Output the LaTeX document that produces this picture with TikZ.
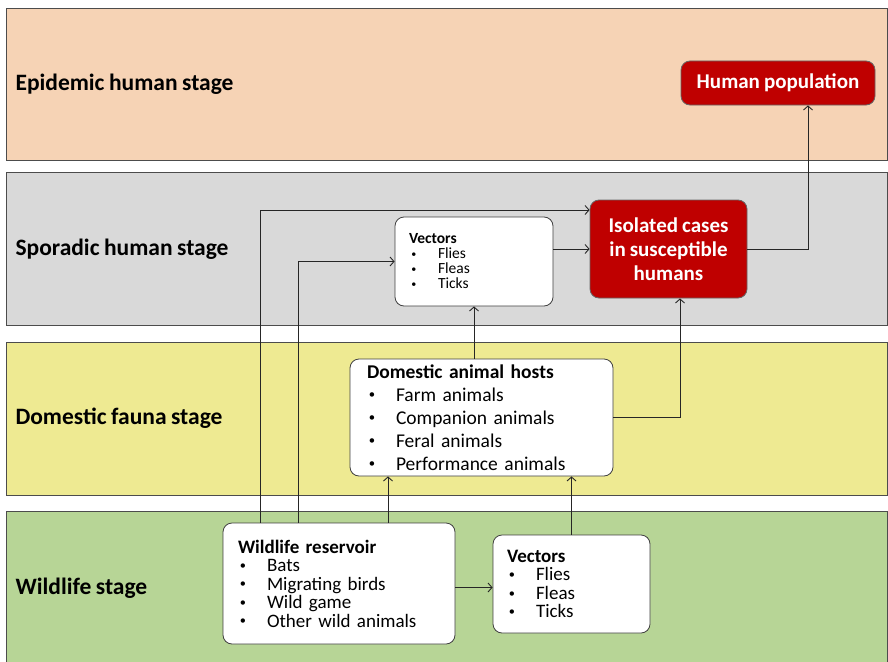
\documentclass[tikz,border=0pt]{standalone}
\usepackage{fontspec}
\setmainfont{Carlito}[WordSpace=0.85]
\usetikzlibrary{arrows.meta}

% puce de liste
\newcommand{\puce}{\makebox[10pt]{\raisebox{0.12em}{\scalebox{0.65}{\textbullet}}}\hspace{19pt}}

\begin{document}
\begin{tikzpicture}[x=1pt, y=-1pt,
    bande/.style={draw=black!70, line width=0.8pt},
    titre/.style={anchor=west, font=\fontsize{23.5}{26}\selectfont\bfseries},
    boite/.style={draw=black!75, fill=white, rounded corners=9pt, align=left, line width=0.8pt},
    rouge/.style={draw=black!60, fill=red!75!black, text=white, rounded corners=9pt,
                  align=center, line width=0.8pt, font=\fontsize{21}{24}\selectfont\bfseries},
    fl/.style={-{Straight Barb[length=4pt,width=9pt]}, line width=0.9pt, black!85}]
    \useasboundingbox (0,0) rectangle (888,661);

    % Bandes de fond
    \draw[bande, fill={rgb,255:red,246;green,211;blue,181}] (6,8) rectangle (887,160);
    \draw[bande, fill={rgb,255:red,217;green,217;blue,217}] (6,172) rectangle (887,325);
    \draw[bande, fill={rgb,255:red,238;green,234;blue,146}] (6,342) rectangle (887,495);
    \draw[bande, fill={rgb,255:red,183;green,213;blue,150}] (6,511) rectangle (887,670);

    % Titres des bandes
    \node[titre] (tEpi) at (12,84) {Epidemic human stage};
    \node[titre] (tSpo) at (12,249) {Sporadic human stage};
    \node[titre] (tDom) at (12,418) {Domestic fauna stage};
    \node[titre] (tWil) at (12,588) {Wildlife stage};

    % Boites
    \node[boite, minimum width=232pt, minimum height=121pt, text width=202pt, inner xsep=15pt,
          font=\fontsize{19}{18.5}\selectfont] (res) at (339,583.5)
        {\textbf{Wildlife reservoir}\\ \puce Bats\\ \puce Migrating birds\\ \puce Wild game\\ \puce Other wild animals};
    \node[boite, minimum width=157pt, minimum height=98pt, text width=129pt, inner xsep=14pt,
          font=\fontsize{19}{18.5}\selectfont] (wvec) at (571.5,584)
        {\textbf{Vectors}\\ \puce Flies\\ \puce Fleas\\ \puce Ticks};
    \node[boite, minimum width=263pt, minimum height=117pt, text width=229pt, inner xsep=17pt,
          font=\fontsize{19.5}{23}\selectfont] (dom) at (481.5,417.5)
        {\textbf{Domestic animal hosts}\\ \puce Farm animals\\ \puce Companion animals\\ \puce Feral animals\\ \puce Performance animals};
    \node[boite, minimum width=158pt, minimum height=89pt, text width=130pt, inner xsep=14pt,
          font=\fontsize{15.5}{15}\selectfont] (svec) at (474,261.5)
        {\textbf{Vectors}\\ \puce Flies\\ \puce Fleas\\ \puce Ticks};
    \node[rouge, minimum width=157pt, minimum height=98pt] (iso) at (668.5,249)
        {Isolated cases\\ in susceptible\\ humans};
    \node[rouge, minimum width=194pt, minimum height=44pt] (hum) at (778,83)
        {Human population};

    % Fleches
    \draw[fl] ([yshift=-4pt]res.east) -- ([yshift=-4pt]res.east -| wvec.west);
    \draw[fl] ([xshift=-79pt]res.north) |- ([yshift=39pt]iso.west);
    \draw[fl] ([xshift=-41pt]res.north) |- (svec.west);
    \draw[fl] ([xshift=49pt]res.north) -- ([xshift=49pt]res.north |- dom.south);
    \draw[fl] (wvec.north) -- (wvec.north |- dom.south);
    \draw[fl] (dom.north -| svec) -- (svec.south);
    \draw[fl] (dom.east) -| ([xshift=11.5pt]iso.south);
    \draw[fl] (svec.east |- iso.west) -- (iso.west);
    \draw[fl] (iso.east) -| ([xshift=30pt]hum.south);
\end{tikzpicture}
\end{document}
